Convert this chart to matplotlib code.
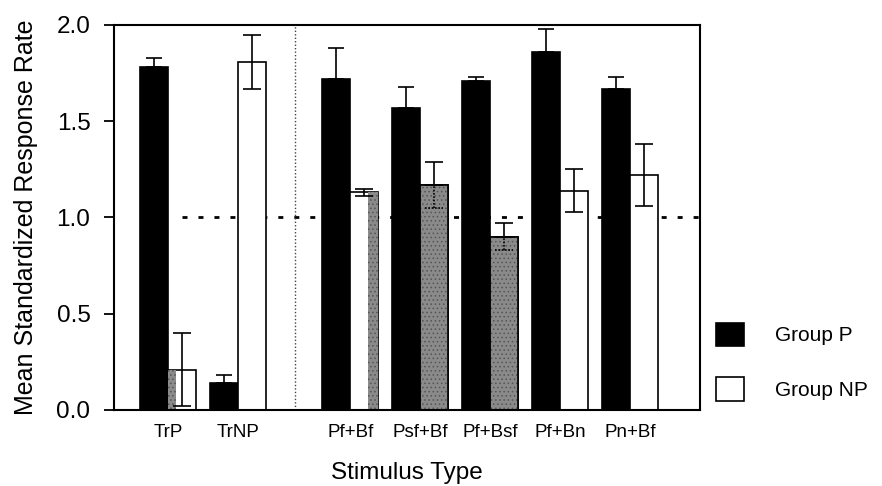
import matplotlib

matplotlib.use("Agg")
import matplotlib.pyplot as plt
from matplotlib.patches import Patch


STIMULI = ['TrP', 'TrNP', 'Pf+Bf', 'Psf+Bf', 'Pf+Bsf', 'Pf+Bn', 'Pn+Bf']
X_POS = [0, 1, 2.6, 3.6, 4.6, 5.6, 6.6]
GROUP_P = [1.78, 0.14, 1.72, 1.57, 1.71, 1.86, 1.67]
GROUP_P_ERR = [0.05, 0.04, 0.16, 0.11, 0.02, 0.12, 0.06]
GROUP_NP = [0.21, 1.81, 1.13, 1.17, 0.90, 1.14, 1.22]
GROUP_NP_ERR = [0.19, 0.14, 0.02, 0.12, 0.07, 0.11, 0.16]

# fill of the Group NP bars and the shaded strip drawn inside some of them
NP_FILL = ['white', 'white', 'white', 'gray', 'gray', 'white', 'white']
NP_STRIP = ['left', None, 'right', None, None, None, None]

GRAY = '#8a8a8a'
W = 0.4

plt.rcParams['font.family'] = ['Liberation Sans', 'DejaVu Sans']
plt.rcParams['lines.scale_dashes'] = False
plt.rcParams['hatch.color'] = '#555555'
plt.rcParams['hatch.linewidth'] = 0.6

fig = plt.figure(figsize=(8.82, 4.86), dpi=100)
ax = fig.add_axes([0.1293, 0.1564, 0.6644, 0.7922])

# reference line at 1.0 and divider between training and test stimuli
ax.hlines(1.0, 0.19, 7.6, colors='black', linewidth=2.0,
          linestyles=(0, (3.6, 7.9)), zorder=1)
ax.axvline(1.81, color='#444444', linewidth=1.0,
           linestyle=(0, (1, 1.5)), zorder=1)


def gray_bar(x, h, w, **kw):
    # flat gray with a fine dot texture
    ax.bar(x, h, w, color=GRAY, hatch='....', linewidth=0, **kw)


for i, x in enumerate(X_POS):
    ax.bar(x - W / 2, GROUP_P[i], W, color='black', edgecolor='black',
           linewidth=1.2, zorder=2)
    ax.errorbar(x - W / 2, GROUP_P[i], yerr=[[0], [GROUP_P_ERR[i]]],
                fmt='none', ecolor='black', elinewidth=1.2, capsize=5.5,
                capthick=1.2, zorder=3)

    ax.bar(x + W / 2, GROUP_NP[i], W, color='white', edgecolor='black',
           linewidth=1.2, zorder=2)
    if NP_FILL[i] == 'gray':
        gray_bar(x + W / 2, GROUP_NP[i], W - 0.01, zorder=2.1)
        ax.bar(x + W / 2, GROUP_NP[i], W, fill=False, edgecolor='black',
               linewidth=1.2, zorder=2.2)
    if NP_STRIP[i] == 'left':
        gray_bar(x + 0.055, GROUP_NP[i], 0.11, zorder=2.1)
    elif NP_STRIP[i] == 'right':
        gray_bar(x + W - 0.07, GROUP_NP[i], 0.14, zorder=2.1)

    if NP_FILL[i] == 'gray':
        ax.errorbar(x + W / 2, GROUP_NP[i], yerr=[[0], [GROUP_NP_ERR[i]]],
                    fmt='none', ecolor='black', elinewidth=1.2, capsize=6.5,
                    capthick=1.2, zorder=3)
        lo = GROUP_NP[i] - GROUP_NP_ERR[i]
        ax.vlines(x + W / 2, lo, GROUP_NP[i], colors='black', linewidth=1.2,
                  linestyles=(0, (1.2, 1.2)), zorder=3)
        ax.hlines(lo, x + W / 2 - 0.13, x + W / 2 + 0.13, colors='black',
                  linewidth=1.2, linestyles=(0, (1.2, 1.2)), zorder=3)
    else:
        ax.errorbar(x + W / 2, GROUP_NP[i], yerr=GROUP_NP_ERR[i],
                    fmt='none', ecolor='black', elinewidth=1.2, capsize=6.5,
                    capthick=1.2, zorder=3)

ax.set_xlim(-0.776, 7.6)
ax.set_ylim(0, 2.0)
ax.set_yticks([0.0, 0.5, 1.0, 1.5, 2.0])
ax.set_yticklabels(['0.0', '0.5', '1.0', '1.5', '2.0'], fontsize=17.5)
ax.set_xticks(X_POS)
ax.set_xticklabels(STIMULI, fontsize=13.5)
ax.tick_params(axis='y', direction='out', length=7, width=1.3, pad=10)
ax.tick_params(axis='x', length=0, pad=10)
for s in ax.spines.values():
    s.set_linewidth(1.5)

ax.set_ylabel('Mean Standardized Response Rate', fontsize=18, labelpad=13)
ax.set_xlabel('Stimulus Type', fontsize=17.5, labelpad=15)

handles = [Patch(facecolor='black', edgecolor='black', linewidth=1.2),
           Patch(facecolor='white', edgecolor='black', linewidth=1.2)]
fig.legend(handles, ['Group P', 'Group NP'], loc='upper left',
           bbox_to_anchor=(0.8118, 0.336), frameon=False, fontsize=15,
           borderpad=0, borderaxespad=0, handlelength=1.35,
           handleheight=1.35, handletextpad=1.5, labelspacing=1.5)

fig.savefig("out.png", dpi=100)
